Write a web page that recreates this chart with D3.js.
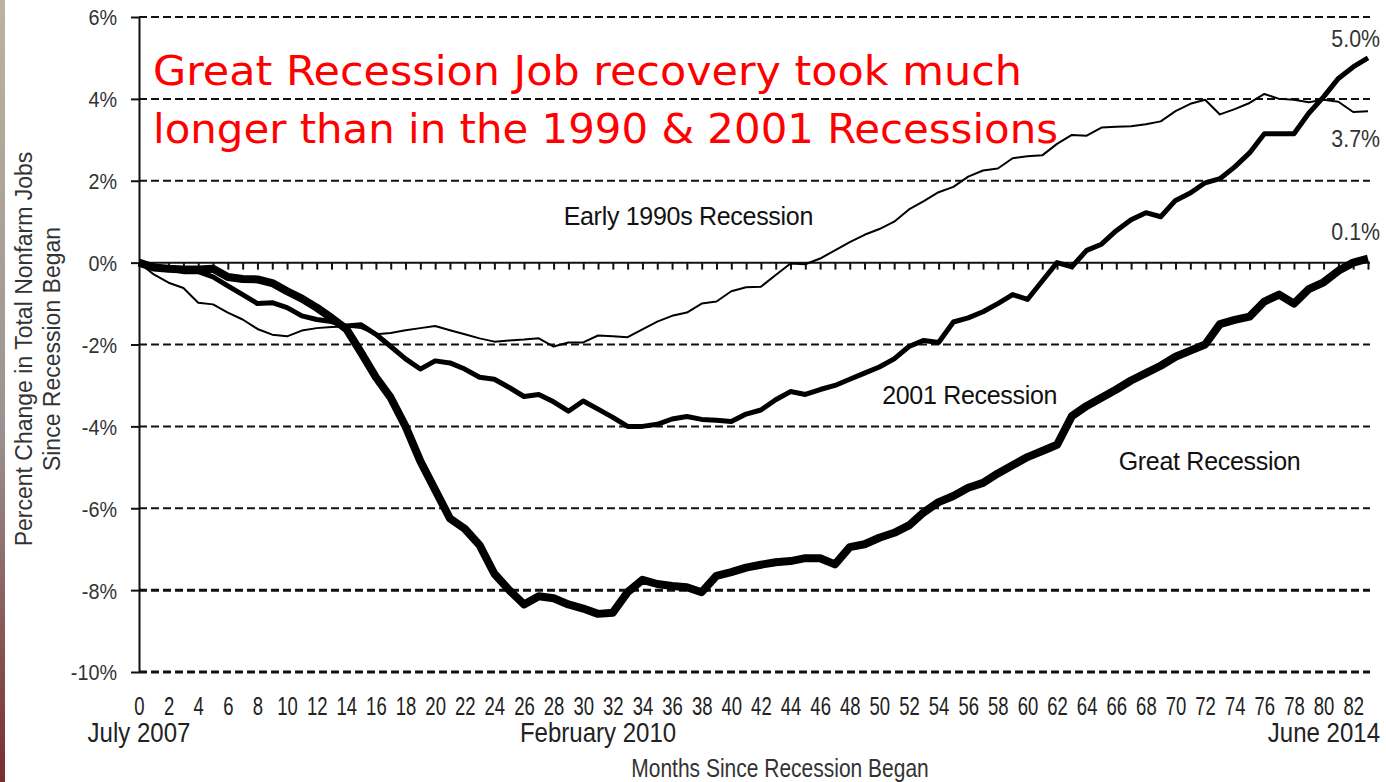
<!DOCTYPE html>
<html>
<head>
<meta charset="utf-8">
<script src="https://cdn.jsdelivr.net/npm/d3@7"></script>
<style>
  html, body { margin: 0; padding: 0; background: #ffffff; }
  svg { display: block; }
</style>
</head>
<body>
<svg id="chart" width="1386" height="782"></svg>
<script>
// ---------------- DATA ----------------
const months = d3.range(0, 84); // 0 = July 2007 ... 83 = June 2014

const early1990s = [
  0, -0.29, -0.49, -0.62, -0.98, -1.02, -1.22, -1.39, -1.62, -1.76,
  -1.8, -1.66, -1.6, -1.57, -1.56, -1.6, -1.75, -1.72, -1.65, -1.6,
  -1.55, -1.65, -1.75, -1.85, -1.93, -1.9, -1.88, -1.85, -2.05, -1.95,
  -1.95, -1.78, -1.8, -1.82, -1.63, -1.44, -1.3, -1.22, -1.0, -0.95,
  -0.7, -0.6, -0.59, -0.3, -0.02, -0.04, 0.1, 0.3, 0.5, 0.68,
  0.82, 1.0, 1.3, 1.5, 1.72, 1.85, 2.1, 2.25, 2.3, 2.55,
  2.6, 2.62, 2.9, 3.12, 3.1, 3.3, 3.32, 3.33, 3.38, 3.45,
  3.7, 3.88, 3.98, 3.62, 3.75, 3.9, 4.12, 4.0, 3.98, 3.92,
  3.98, 3.93, 3.68, 3.7
];

const recession2001 = [
  0, -0.08, -0.15, -0.22, -0.22, -0.35, -0.57, -0.78, -1.0, -0.98,
  -1.1, -1.3, -1.39, -1.44, -1.55, -1.52, -1.75, -2.05, -2.35, -2.6,
  -2.4, -2.45, -2.6, -2.8, -2.85, -3.05, -3.27, -3.22, -3.4, -3.63,
  -3.38, -3.58, -3.78, -4.0, -4.0, -3.95, -3.82, -3.76, -3.83, -3.85,
  -3.88, -3.7, -3.6, -3.35, -3.15, -3.22, -3.1, -3.0, -2.85, -2.7,
  -2.55, -2.35, -2.05, -1.9, -1.95, -1.45, -1.35, -1.2, -1.0, -0.78,
  -0.9, -0.45, 0.0, -0.1, 0.3, 0.45, 0.78, 1.05, 1.22, 1.12,
  1.52, 1.7, 1.95, 2.05, 2.34, 2.68, 3.15, 3.15, 3.15, 3.65,
  4.05, 4.5, 4.78, 5.0
];

const greatRecession = [
  0, -0.12, -0.15, -0.17, -0.17, -0.15, -0.35, -0.4, -0.41, -0.5,
  -0.7, -0.88, -1.1, -1.35, -1.62, -2.2, -2.8, -3.3, -4.0, -4.85,
  -5.55, -6.25, -6.5, -6.9, -7.6, -8.0, -8.35, -8.15, -8.2, -8.35,
  -8.45, -8.58, -8.55, -8.05, -7.75, -7.85, -7.9, -7.93, -8.05, -7.65,
  -7.56, -7.45, -7.38, -7.32, -7.29, -7.22, -7.22, -7.37, -6.95, -6.88,
  -6.72, -6.6, -6.42, -6.1, -5.85, -5.7, -5.5, -5.38, -5.15, -4.95,
  -4.75, -4.6, -4.45, -3.75, -3.5, -3.3, -3.1, -2.88, -2.7, -2.52,
  -2.3, -2.15, -2.0, -1.5, -1.4, -1.32, -0.95, -0.78, -1.0, -0.65,
  -0.48, -0.2, 0.0, 0.1
];

const yTickValues = [6, 4, 2, 0, -2, -4, -6, -8, -10];
const xTickValues = d3.range(0, 83, 2);
const dateLabels = [
  { month: 0, text: "July 2007", anchor: "middle" },
  { month: 31, text: "February 2010", anchor: "middle" },
  { month: 83, text: "June 2014", anchor: "end" }
];
const endLabels = [
  { value: 5.0, text: "5.0%" },
  { value: 3.7, text: "3.7%" },
  { value: 0.1, text: "0.1%" }
];
const seriesLabels = [
  { text: "Early 1990s Recession", month: 37.1, value: 0.92 },
  { text: "2001 Recession", month: 56.1, value: -3.45 },
  { text: "Great Recession", month: 72.3, value: -5.07 }
];
const titleLines = [
  "Great Recession Job recovery took much",
  "longer than in the 1990 & 2001 Recessions"
];

// ---------------- LAYOUT ----------------
const svg = d3.select("#chart");
const x = d3.scaleLinear().domain([0, 83]).range([139, 1368]);
const y = d3.scaleLinear().domain([-10, 6]).range([672, 17]);
const sans = "'Liberation Sans', Arial, sans-serif";

// left slide edge strip
const defs = svg.append("defs");
const grad = defs.append("linearGradient").attr("id", "edge")
  .attr("x1", 0).attr("y1", 0).attr("x2", 0).attr("y2", 1);
grad.append("stop").attr("offset", "0%").attr("stop-color", "#bcb2a2");
grad.append("stop").attr("offset", "55%").attr("stop-color", "#9a9290");
grad.append("stop").attr("offset", "100%").attr("stop-color", "#7a2d2f");
svg.append("rect").attr("x", 0).attr("y", 0).attr("width", 5).attr("height", 782)
  .attr("fill", "url(#edge)");

// dashed gridlines (excluding 0)
svg.append("g").selectAll("line")
  .data(yTickValues.filter(d => d !== 0))
  .join("line")
  .attr("x1", x(0)).attr("x2", 1370)
  .attr("y1", d => y(d)).attr("y2", d => y(d))
  .attr("stroke", "#111")
  .attr("stroke-width", d => d <= -8 ? 3 : 2)
  .attr("stroke-dasharray", "8,4");

// Y axis
const yAxis = svg.append("g")
  .attr("transform", `translate(${x(0)},0)`)
  .call(d3.axisLeft(y).tickValues(yTickValues).tickFormat(d => d + "%")
    .tickSize(8).tickSizeOuter(0).tickPadding(14));
yAxis.select(".domain").attr("stroke", "#111").attr("stroke-width", 2);
yAxis.selectAll(".tick line").attr("stroke", "#111").attr("stroke-width", 2);
yAxis.selectAll(".tick text")
  .attr("font-family", sans).attr("font-size", 22).attr("fill", "#333")
  .attr("x", 0).attr("dy", "0.36em")
  .attr("transform", "translate(-22,0) scale(0.9,1)");

// zero line with monthly ticks
const zeroAxis = svg.append("g")
  .attr("transform", `translate(0,${y(0)})`)
  .call(d3.axisBottom(x).tickValues(months.slice(1)).tickFormat("")
    .tickSize(7).tickSizeOuter(0));
zeroAxis.select(".domain").attr("stroke", "#111").attr("stroke-width", 2)
  .attr("d", `M${x(0)},0H1370`);
zeroAxis.selectAll(".tick line").attr("stroke", "#111").attr("stroke-width", 2);

// X axis tick labels (months)
const xAxis = svg.append("g")
  .attr("transform", `translate(0,${y(-10)})`)
  .call(d3.axisBottom(x).tickValues(xTickValues).tickFormat(d3.format("d"))
    .tickSize(0).tickSizeOuter(0).tickPadding(25));
xAxis.select(".domain").remove();
xAxis.selectAll(".tick text")
  .attr("font-family", sans).attr("font-size", 25).attr("fill", "#222")
  .attr("transform", "scale(0.74,1)");

// date labels under the axis
svg.append("g").selectAll("text").data(dateLabels).join("text")
  .attr("transform", d => `translate(${d.anchor === "end" ? 1380 : x(d.month)},742) scale(0.89,1)`)
  .attr("text-anchor", d => d.anchor)
  .attr("font-family", sans).attr("font-size", 27).attr("fill", "#222")
  .text(d => d.text);

// x axis title
svg.append("text")
  .attr("transform", "translate(780,777) scale(0.84,1)")
  .attr("text-anchor", "middle")
  .attr("font-family", sans).attr("font-size", 25).attr("fill", "#333")
  .text("Months Since Recession Began");

// y axis title
const yTitle = svg.append("text")
  .attr("transform", "translate(0,349) rotate(-90)")
  .attr("text-anchor", "middle")
  .attr("font-family", sans).attr("font-size", 23).attr("fill", "#333");
yTitle.append("tspan").attr("x", 0).attr("y", 32).text("Percent Change in Total Nonfarm Jobs");
yTitle.append("tspan").attr("x", 0).attr("y", 60).text("Since Recession Began");

// lines
const line = d3.line().x((d, i) => x(months[i])).y(d => y(d));
const series = [
  { values: early1990s, width: 2 },
  { values: recession2001, width: 5 },
  { values: greatRecession, width: 8 }
];
svg.append("g").selectAll("path").data(series).join("path")
  .attr("d", d => line(d.values))
  .attr("fill", "none")
  .attr("stroke", "#000")
  .attr("stroke-width", d => d.width)
  .attr("stroke-linejoin", "round")
  .attr("stroke-linecap", "butt");

// series labels
svg.append("g").selectAll("text").data(seriesLabels).join("text")
  .attr("x", d => x(d.month)).attr("y", d => y(d.value))
  .attr("text-anchor", "middle")
  .attr("font-family", sans).attr("font-size", 25).attr("fill", "#111")
  .attr("letter-spacing", -0.3)
  .text(d => d.text);

// end value labels
const endLabelY = { "5.0%": 47, "3.7%": 147, "0.1%": 240 };
svg.append("g").selectAll("text").data(endLabels).join("text")
  .attr("transform", d => `translate(1380,${endLabelY[d.text]}) scale(0.89,1)`)
  .attr("text-anchor", "end")
  .attr("font-family", sans).attr("font-size", 24).attr("fill", "#333")
  .text(d => d.text);

// red headline
const titleWidths = [869, 905];
svg.append("g").selectAll("text").data(titleLines).join("text")
  .attr("x", 153).attr("y", (d, i) => 85 + i * 58)
  .attr("font-family", "'DejaVu Sans Condensed', 'DejaVu Sans', Verdana, sans-serif")
  .attr("font-size", 40).attr("fill", "#ff0000")
  .attr("textLength", (d, i) => titleWidths[i])
  .attr("lengthAdjust", "spacingAndGlyphs")
  .text(d => d);
</script>
</body>
</html>
